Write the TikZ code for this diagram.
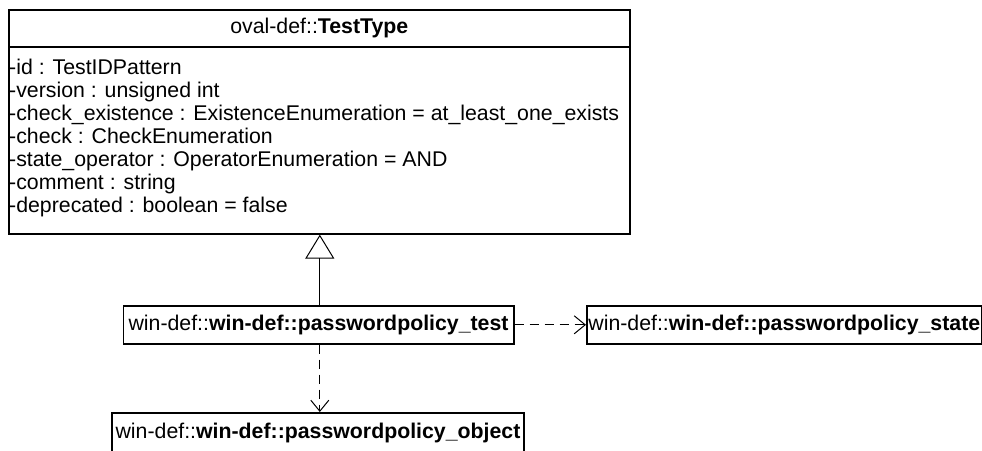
\documentclass[tikz,border=0pt]{standalone}
\usepackage{fontspec}
\setmainfont{Liberation Sans}
\usetikzlibrary{arrows.meta}
\begin{document}
\begin{tikzpicture}[x=1pt,y=-1pt,
  box/.style={draw, line width=1.6pt, rectangle, inner sep=0pt, font=\fontsize{21.3}{23}\selectfont},
  attr/.style={inner sep=0pt, font=\fontsize{21.3}{23}\selectfont, anchor=base west},
  gen/.style={line width=1pt, -{Triangle[open, length=24pt, width=29pt, line width=1pt]}},
  dep/.style={line width=1pt, dash pattern=on 9pt off 6pt, -{Straight Barb[length=11pt, width=18pt, line width=1pt]}}]
\useasboundingbox (0,0) rectangle (982,450);
% class TestType
\node[box, anchor=north west, minimum width=621pt, minimum height=37pt] (tt) at (8,9) {oval-def::\textbf{TestType}};
\node[box, anchor=north west, minimum width=621pt, minimum height=187pt] (ttattr) at (8,46) {};
\node[attr] (a1) at (9,74) {-id : TestIDPattern};
\node[attr] (a2) at (9,97) {-version : unsigned int};
\node[attr] (a3) at (9,120) {-check\_existence : ExistenceEnumeration = at\_least\_one\_exists};
\node[attr] (a4) at (9,143) {-check : CheckEnumeration};
\node[attr] (a5) at (9,166) {-state\_operator : OperatorEnumeration = AND};
\node[attr] (a6) at (9,189) {-comment : string};
\node[attr] (a7) at (9,212) {-deprecated : boolean = false};
% other classes
\node[box, anchor=north west, minimum width=390.5pt, minimum height=38pt] (test) at (122.5,305) {win-def::\textbf{win-def::passwordpolicy\_test}};
\node[box, anchor=north west, minimum width=395pt, minimum height=38pt] (state) at (586,305) {win-def::\textbf{win-def::passwordpolicy\_state}};
\node[box, anchor=north, minimum width=412pt, minimum height=41pt] (obj) at (318,412) {win-def::\textbf{win-def::passwordpolicy\_object}};
% connectors
\draw[gen] ([xshift=1.25pt]test.north) -- ([xshift=1.25pt]test.north |- ttattr.south);
\draw[dep] (test.east) -- (state.west);
\draw[dep] ([xshift=1.25pt]test.south) -- ([xshift=1.25pt]test.south |- obj.north);
\end{tikzpicture}
\end{document}
